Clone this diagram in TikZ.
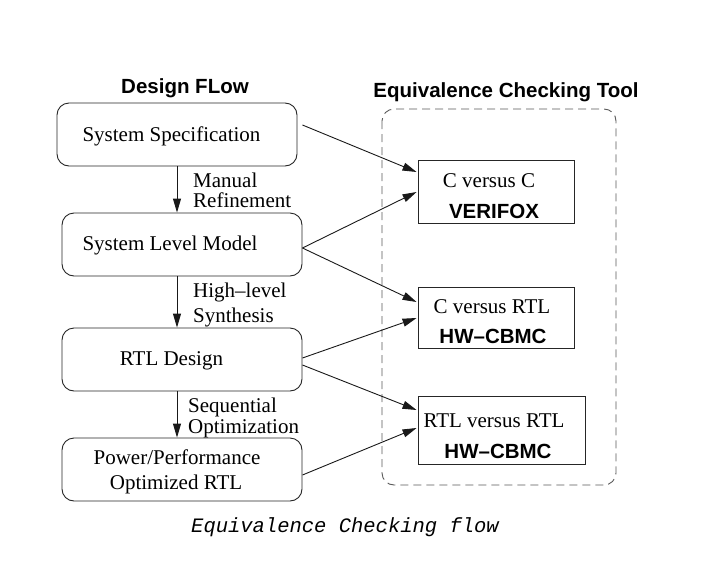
\documentclass[tikz,border=0pt]{standalone}
\usepackage{fontspec}
\setmainfont{Liberation Serif}
\setsansfont{Liberation Sans}
\setmonofont{Liberation Mono}
\usetikzlibrary{arrows.meta,calc}
\begin{document}
\begin{tikzpicture}[x=1pt,y=-1pt,
  flowbox/.style={draw=black!85, line width=0.9pt, rounded corners=12pt, minimum width=240pt, minimum height=63pt, inner sep=0pt},
  toolbox/.style={draw=black!85, line width=0.9pt, inner sep=0pt},
  txt/.style={font=\fontsize{21}{24}\selectfont, inner sep=0pt, anchor=base},
  btxt/.style={font=\fontsize{20.5}{24}\sffamily\bfseries\selectfont, inner sep=0pt, anchor=base},
  arr/.style={-{Triangle[length=14pt,width=8pt]}, line width=0.9pt, draw=black!90},
  groupbox/.style={draw=black!65, line width=0.9pt, dash pattern=on 8pt off 5pt, rounded corners=12pt}
]
\useasboundingbox (0,0) rectangle (712,565);

% titles
\node[btxt] (t1) at (185,93) {Design FLow};
\node[btxt] (t2) at (506,97) {Equivalence Checking Tool};

% dashed group
\draw[groupbox] (382,109) rectangle (616,485);

% left boxes
\node[flowbox] (b1) at (177,134.5) {};
\node[flowbox] (b2) at (182,244.5) {};
\node[flowbox] (b3) at (182,359.5) {};
\node[flowbox] (b4) at (182,469.5) {};
\node[txt] (l1) at (171.5,141) {System Specification};
\node[txt] (l2) at (170,250) {System Level Model};
\node[txt] (l3) at (171.5,365) {RTL Design};
\node[txt] (l4a) at (177,464) {Power/Performance};
\node[txt] (l4b) at (176,489) {Optimized RTL};

% right boxes
\node[toolbox, minimum width=156pt, minimum height=63pt] (r1) at (496,191.5) {};
\node[toolbox, minimum width=156pt, minimum height=61pt] (r2) at (496,317.5) {};
\node[toolbox, minimum width=167pt, minimum height=68pt] (r3) at (501.5,430) {};
\node[txt] (r1a) at (489,187) {C versus C};
\node[btxt] (r1b) at (494,218) {VERIFOX};
\node[txt] (r2a) at (492,313) {C versus RTL};
\node[btxt] (r2b) at (493,343) {HW\textendash CBMC};
\node[txt] (r3a) at (494,427) {RTL versus RTL};
\node[btxt] (r3b) at (498,458) {HW\textendash CBMC};

% vertical arrows
\draw[arr] (b1.south) -- (b1.south |- b2.north);
\draw[arr] (b1.south |- b2.south) -- (b1.south |- b3.north);
\draw[arr] (b1.south |- b3.south) -- (b1.south |- b4.north);

% arrow labels
\node[txt, anchor=base west] (m1) at (193,187) {Manual};
\node[txt, anchor=base west] (m2) at (193,207) {Refinement};
\node[txt, anchor=base west] (h1) at (193,297) {High\textendash level};
\node[txt, anchor=base west] (h2) at (193,322) {Synthesis};
\node[txt, anchor=base west] (s1) at (188,412) {Sequential};
\node[txt, anchor=base west] (s2) at (188,433) {Optimization};

% diagonal arrows
\draw[arr] ($(b1.east)+(5,-9.5)$) -- ($(r1.west)+(-1,-19.5)$);
\draw[arr] ($(b2.east)+(0,3.5)$) -- ($(r1.west)+(-1,0.5)$);
\draw[arr] ($(b2.east)+(0,3.5)$) -- ($(r2.west)+(-1,-15.5)$);
\draw[arr] ($(b3.east)+(0,-1.5)$) -- ($(r2.west)+(-1,0.5)$);
\draw[arr] ($(b3.east)+(0,5.5)$) -- ($(r3.west)+(-1,-20)$);
\draw[arr] ($(b4.east)+(0,5.5)$) -- ($(r3.west)+(-1,-2)$);

% caption
\node[font=\fontsize{20.5}{24}\ttfamily\itshape\selectfont, inner sep=0pt, anchor=base] (cap) at (345,532) {Equivalence Checking flow};
\end{tikzpicture}
\end{document}
